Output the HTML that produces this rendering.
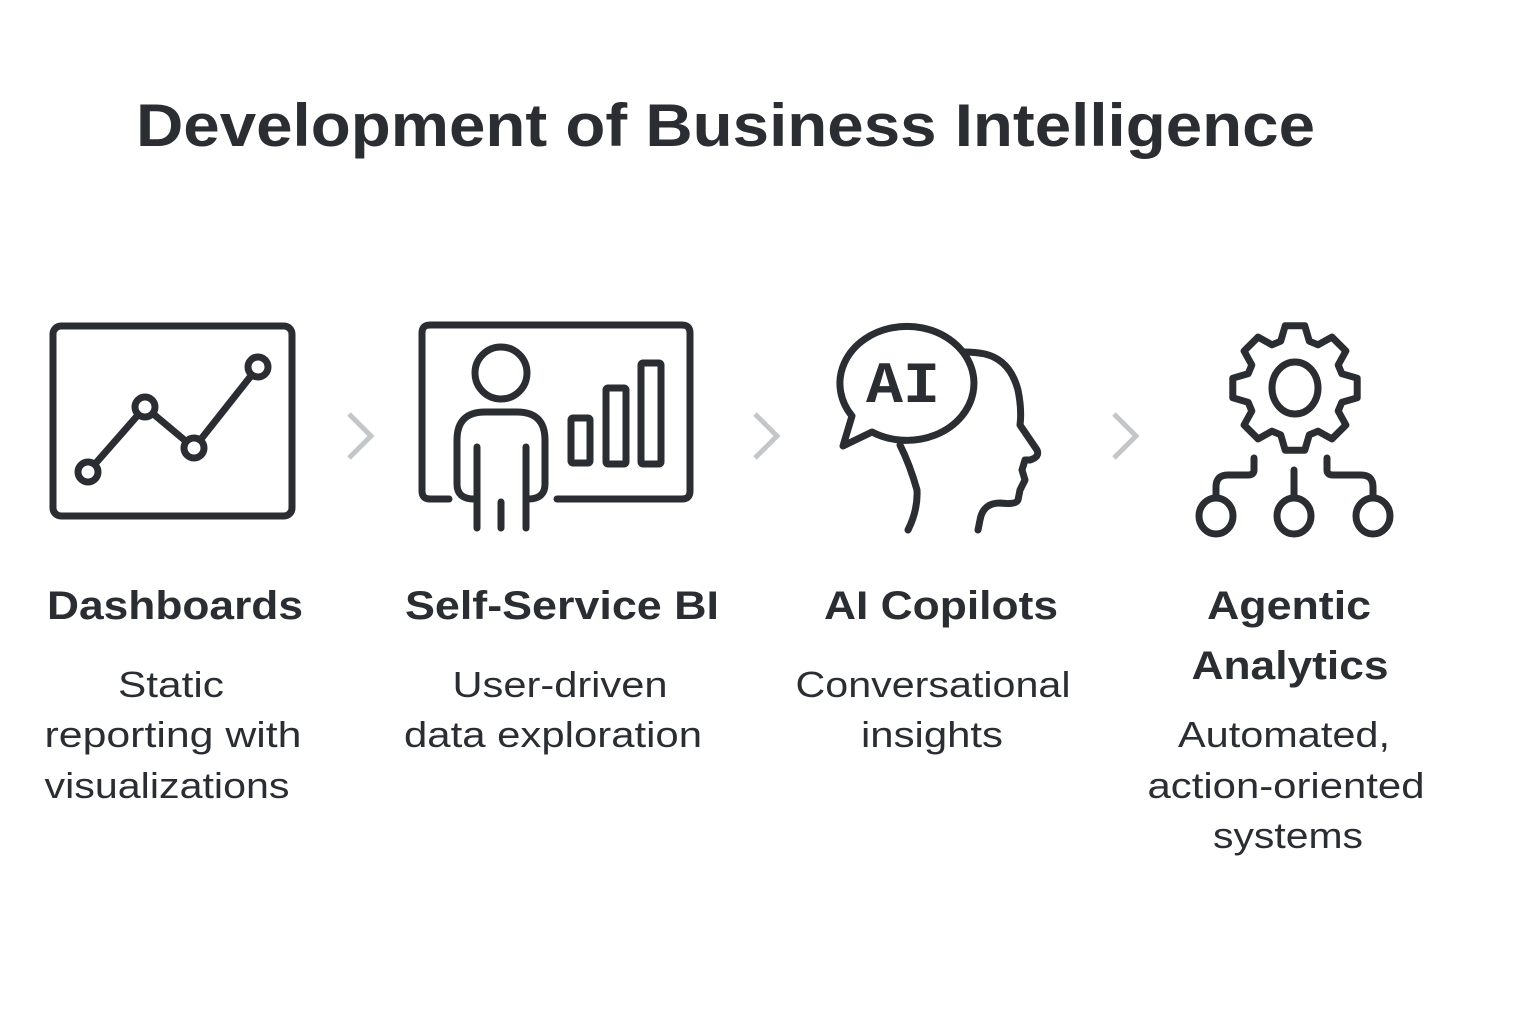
<!DOCTYPE html>
<html><head><meta charset="utf-8"><style>
html,body{margin:0;padding:0;background:#fff;}
body{width:1536px;height:1024px;overflow:hidden;position:relative;font-family:"Liberation Sans",sans-serif;color:#2a2e33;}
svg{position:absolute;left:0;top:0;}
</style></head><body>
<svg width="1536" height="1024" viewBox="0 0 1536 1024">
<text x="136" y="146" font-family="Liberation Sans, sans-serif" font-weight="bold" font-size="60" fill="#2a2e33" textLength="1179" lengthAdjust="spacingAndGlyphs">Development of Business Intelligence</text>
<g fill="none" stroke="#2a2e33" stroke-width="7" stroke-linecap="round" stroke-linejoin="round">
<rect x="53" y="326" width="239" height="190" rx="8"/>
<polyline points="88,472 145,407 194,448 258,367"/>
<circle cx="88" cy="472" r="10" fill="#fff"/><circle cx="145" cy="407" r="10" fill="#fff"/><circle cx="194" cy="448" r="10" fill="#fff"/><circle cx="258" cy="367" r="10" fill="#fff"/>
<path d="M449,499 L430,499 Q422,499 422,491 L422,333 Q422,325 430,325 L682,325 Q690,325 690,333 L690,491 Q690,499 682,499 L557,499"/>
<circle cx="501" cy="373" r="26"/>
<path d="M474,499 Q457,499 457,484 L457,440 Q457,412 485,412 L517,412 Q545,412 545,440 L545,484 Q545,499 528,499"/>
<line x1="477" y1="447" x2="477" y2="528"/><line x1="526" y1="447" x2="526" y2="528"/><line x1="501" y1="502" x2="501" y2="528"/>
<rect x="571" y="418" width="19" height="45" rx="2"/><rect x="606" y="388" width="20" height="76" rx="2"/><rect x="641" y="363" width="20" height="101" rx="2"/>
<path d="M872,432 A67 57 0 1 0 852,416 L843,446 Z"/>
<path d="M964,352 Q975,352 985,354 Q1010,360 1018,390 Q1022,410 1020,425 L1037,450 Q1040,457 1030,460 L1025,460 L1022,470 L1025,480 L1020,490 L1018,500 Q1016,505 1000,503 Q983,503 980,520 L978,530"/>
<path d="M900,445 Q910,465 917,490 Q918,510 908,530"/>
<g transform="translate(1295,388)">
<polygon points="46.8,-14.3 62.2,-9.8 62.2,9.8 46.8,14.3 43.2,23 50.9,37 37,50.9 23,43.2 14.3,46.8 9.8,62.2 -9.8,62.2 -14.3,46.8 -23,43.2 -37,50.9 -50.9,37 -43.2,23 -46.8,14.3 -62.2,9.8 -62.2,-9.8 -46.8,-14.3 -43.2,-23 -50.9,-37 -37,-50.9 -23,-43.2 -14.3,-46.8 -9.8,-62.2 9.8,-62.2 14.3,-46.8 23,-43.2 37,-50.9 50.9,-37 43.2,-23"/>
<ellipse cx="0" cy="0" rx="23" ry="26"/>
</g>
<path d="M1254,458 L1254,470 Q1254,475 1248,475 L1228,475 Q1216,475 1216,487 L1216,497"/>
<path d="M1327,458 L1327,470 Q1327,475 1333,475 L1361,475 Q1373,475 1373,487 L1373,497"/>
<line x1="1294" y1="470" x2="1294" y2="497"/>
<ellipse cx="1216" cy="516" rx="17" ry="18"/><ellipse cx="1294" cy="516" rx="17" ry="18"/><ellipse cx="1373" cy="516" rx="17" ry="18"/>
</g>
<text x="903" y="402" text-anchor="middle" font-family="Liberation Mono, monospace" font-weight="bold" font-size="58" fill="#2a2e33" textLength="74" lengthAdjust="spacingAndGlyphs">AI</text>
<g fill="none" stroke="#c4c7ca" stroke-width="5">
<polyline points="349,414 371,436 349,458"/><polyline points="755,414 777,436 755,458"/><polyline points="1114,414 1136,436 1114,458"/>
</g>
<g font-family="Liberation Sans, sans-serif" fill="#2a2e33" text-anchor="middle" lengthAdjust="spacingAndGlyphs">
<g font-weight="bold" font-size="40">
<text x="175" y="619" textLength="256" lengthAdjust="spacingAndGlyphs">Dashboards</text>
<text x="562" y="619" textLength="314" lengthAdjust="spacingAndGlyphs">Self-Service BI</text>
<text x="941" y="619" textLength="234" lengthAdjust="spacingAndGlyphs">AI Copilots</text>
<text x="1289" y="619" textLength="164" lengthAdjust="spacingAndGlyphs">Agentic</text>
<text x="1290" y="679" textLength="197" lengthAdjust="spacingAndGlyphs">Analytics</text>
</g>
<g font-size="36">
<text x="171" y="697" textLength="106" lengthAdjust="spacingAndGlyphs">Static</text>
<text x="173" y="747" textLength="257" lengthAdjust="spacingAndGlyphs">reporting with</text>
<text x="167" y="798" textLength="245" lengthAdjust="spacingAndGlyphs">visualizations</text>
<text x="560" y="697" textLength="215" lengthAdjust="spacingAndGlyphs">User-driven</text>
<text x="553" y="747" textLength="298" lengthAdjust="spacingAndGlyphs">data exploration</text>
<text x="933" y="697" textLength="275" lengthAdjust="spacingAndGlyphs">Conversational</text>
<text x="932" y="747" textLength="142" lengthAdjust="spacingAndGlyphs">insights</text>
<text x="1284" y="747" textLength="212" lengthAdjust="spacingAndGlyphs">Automated,</text>
<text x="1286" y="798" textLength="277" lengthAdjust="spacingAndGlyphs">action-oriented</text>
<text x="1288" y="848" textLength="150" lengthAdjust="spacingAndGlyphs">systems</text>
</g>
</g>
</svg>
</body></html>
